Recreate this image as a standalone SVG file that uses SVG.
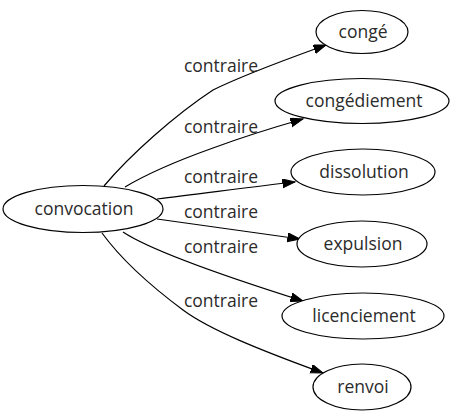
<svg xmlns="http://www.w3.org/2000/svg" width="456" height="419" viewBox="0 0 456 419">
<defs>
<style>
.n ellipse{fill:#fff;stroke:#000;stroke-width:1.2}
text{font-family:"Open Sans","Liberation Sans",sans-serif;font-size:17.5px;fill:#2b2b2b;text-anchor:middle}
.e path{fill:none;stroke:#000;stroke-width:1.2;marker-end:url(#ah)}
</style>
<marker id="ah" markerUnits="userSpaceOnUse" markerWidth="14" markerHeight="10" refX="12.5" refY="4.4" orient="auto">
<path d="M0,0 L12.5,4.4 L0,8.8 z" fill="#000" stroke="#000"/>
</marker>
</defs>
<rect width="456" height="419" fill="#fff"/>
<g class="e" id="edges">
<path d="M104,186 C130,155 175,115 213,90 C245,74 290,58 326,45"/>
<path d="M125,187 C150,172 185,158 213,148 C240,138 275,127 303,119"/>
<path d="M157,199 C200,194 250,187 295,182"/>
<path d="M157,219 C200,225 250,232 300,239"/>
<path d="M123,232 C150,250 230,278 303,301"/>
<path d="M102,233 C118,255 140,278 183,310 C210,330 260,350 323,373"/>
<text x="221" y="72">contraire</text>
<text x="221" y="133">contraire</text>
<text x="221" y="183">contraire</text>
<text x="221" y="218">contraire</text>
<text x="221" y="253">contraire</text>
<text x="221" y="307">contraire</text>
</g>
<g class="n" id="convocation"><ellipse cx="83" cy="209" rx="80" ry="23.5"/><text x="84" y="215">convocation</text></g>
<g class="n" id="conge"><ellipse cx="362" cy="32" rx="46" ry="21.5"/><text x="363" y="38">congé</text></g>
<g class="n" id="congediement"><ellipse cx="362" cy="101" rx="87" ry="22.5"/><text x="364" y="107">congédiement</text></g>
<g class="n" id="dissolution"><ellipse cx="363" cy="172" rx="72" ry="23"/><text x="364" y="178">dissolution</text></g>
<g class="n" id="expulsion"><ellipse cx="362" cy="244" rx="65" ry="23"/><text x="363" y="250">expulsion</text></g>
<g class="n" id="licenciement"><ellipse cx="363" cy="316" rx="81" ry="23"/><text x="364" y="322">licenciement</text></g>
<g class="n" id="renvoi"><ellipse cx="362" cy="387" rx="49" ry="23"/><text x="363" y="393">renvoi</text></g>
</svg>
